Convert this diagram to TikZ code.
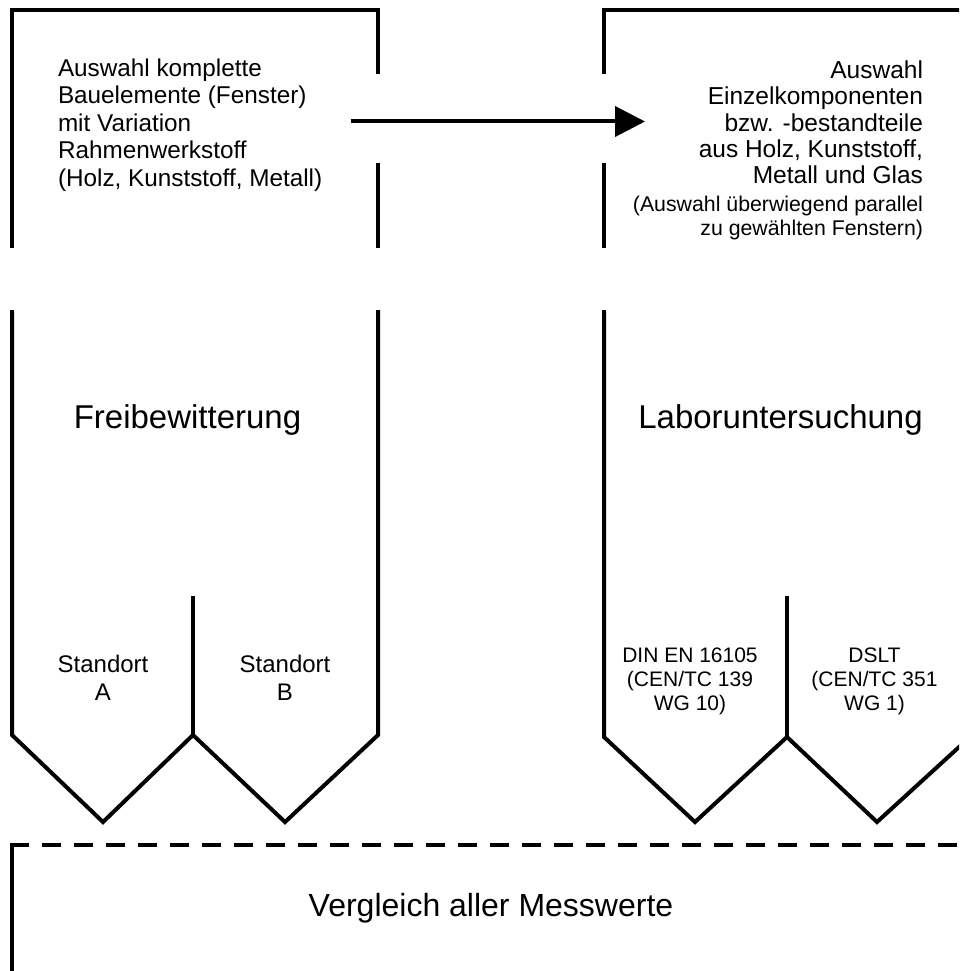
\documentclass[tikz,border=0pt]{standalone}
\usepackage{fontspec}
\setmainfont{Liberation Sans}
\usetikzlibrary{arrows.meta}
\begin{document}
\begin{tikzpicture}[x=1pt,y=-1pt,
  frame/.style={draw=black, line width=4pt, line join=miter},
  txt/.style={inner sep=0pt, outer sep=0pt, text=black},
  bigtxt/.style={txt, font=\fontsize{24.3}{27.5}\selectfont},
  titletxt/.style={txt, font=\fontsize{33}{38}\selectfont},
  flow/.style={draw=black, line width=4pt, -{Triangle[length=30pt,width=30pt]}}]
\useasboundingbox (0,0) rectangle (959,971);
\begin{scope}
\clip (0,0) rectangle (959,971);
% top boxes
\draw[frame] (12,248) -- (12,10) -- (378,10) -- (378,74);
\draw[frame] (378,163) -- (378,248);
\draw[frame] (604,74) -- (604,10) -- (990,10);
\draw[frame] (604,163) -- (604,248);
% middle boxes
\draw[frame] (12,310) -- (12,735) -- (103,822) -- (193,735) -- (285,822) -- (378,735) -- (378,310);
\draw[frame] (193,596) -- (193,735);
\draw[frame] (604,310) -- (604,737) -- (695,822) -- (787,737) -- (877,822) -- (970,737) -- (970,310);
\draw[frame] (787,596) -- (787,737);
% bottom box
\draw[frame, dash pattern=on 19pt off 13pt] (10,845) -- (965,845);
\draw[frame] (12,843) -- (12,980);
\end{scope}
% texts
\node[bigtxt, anchor=north west, align=left] (ltext) at (58,58.5)
  {Auswahl komplette\\Bauelemente (Fenster)\\mit Variation\\Rahmenwerkstoff\\(Holz, Kunststoff, Metall)};
\node[txt, font=\fontsize{24.5}{26.2}\selectfont, anchor=north east, align=right] (rtext) at (923,61)
  {Auswahl\\Einzelkomponenten\\bzw. -bestandteile\\aus Holz, Kunststoff,\\Metall und Glas};
\node[txt, font=\fontsize{21.3}{24.5}\selectfont, anchor=north east, align=right] (rnote) at (923,196)
  {(Auswahl überwiegend parallel\\zu gewählten Fenstern)};
\coordinate (arrS) at (351,121.5);
\coordinate (arrE) at (645,121.5);
\draw[flow] (arrS) -- (arrE);
\node[titletxt, anchor=base] (frei) at (187.5,428) {Freibewitterung};
\node[titletxt, anchor=base] (labor) at (780.5,428) {Laboruntersuchung};
\node[txt, font=\fontsize{24}{28}\selectfont, anchor=north, align=center] (stA) at (103,655) {Standort\\A};
\node[txt, font=\fontsize{24}{28}\selectfont, anchor=north, align=center] (stB) at (285,655) {Standort\\B};
\node[txt, font=\fontsize{21}{24}\selectfont, anchor=north, align=center] (din) at (690,648) {DIN EN 16105\\(CEN/TC 139\\WG 10)};
\node[txt, font=\fontsize{21}{24}\selectfont, anchor=north, align=center] (dslt) at (874.5,648) {DSLT\\(CEN/TC 351\\WG 1)};
\node[txt, font=\fontsize{32}{36}\selectfont, anchor=base] (vergl) at (491,916) {Vergleich aller Messwerte};
\end{tikzpicture}
\end{document}
